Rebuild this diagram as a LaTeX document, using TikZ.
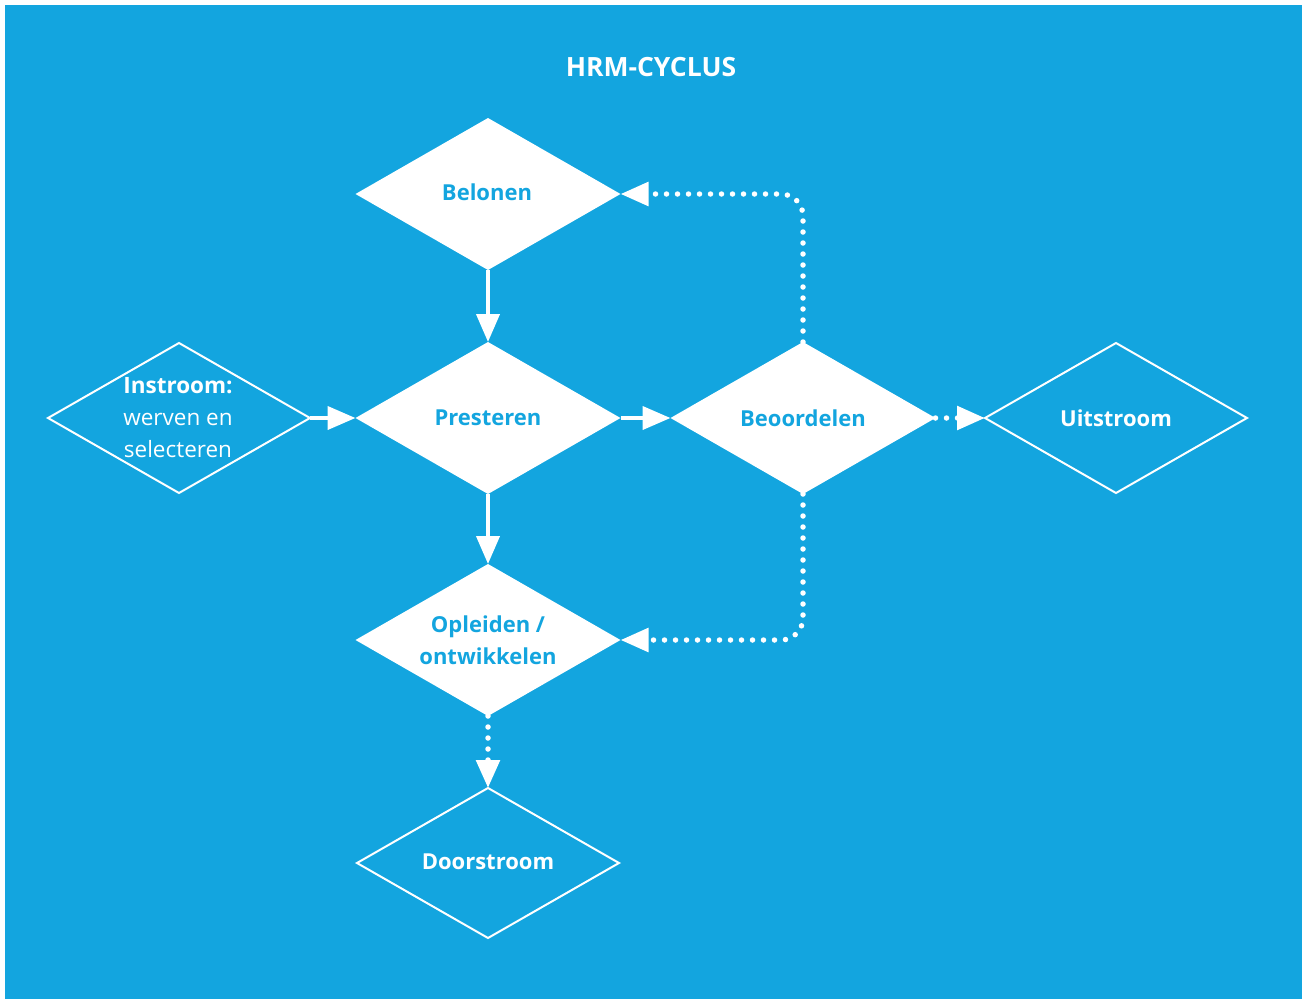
\documentclass[tikz,border=0pt]{standalone}
\usepackage{fontspec}
\setmainfont{Open Sans}
\usetikzlibrary{shapes.geometric,arrows.meta}
\definecolor{bgblue}{RGB}{19,165,223}
\begin{document}
\begin{tikzpicture}[x=1pt,y=-1pt,
  filled/.style={diamond,draw=none,fill=white,minimum width=265pt,minimum height=152pt,inner sep=0pt,outer sep=0pt},
  outlined/.style={diamond,draw=white,line width=2pt,minimum width=262pt,minimum height=150pt,inner sep=0pt,outer sep=0pt},
  lbl/.style={font=\fontsize{22}{32}\selectfont\bfseries,text=bgblue,align=center},
  wlbl/.style={font=\fontsize{22.5}{32}\selectfont,text=white,align=center},
  wblbl/.style={font=\fontsize{22}{32}\selectfont\bfseries,text=white,align=center},
  solidarrow/.style={white,line width=4pt,-{Triangle[length=28pt,width=23pt]}},
  dotarrow/.style={white,line width=5.5pt,line cap=round,dash pattern=on 0pt off 11pt,-{Triangle[length=28pt,width=23pt]}}
]
\useasboundingbox (0,0) rectangle (1302,999);
\fill[white] (0,0) rectangle (1302,999);
\fill[bgblue] (5,5) rectangle (1302,999);

\node[font=\fontsize{26.5}{30}\selectfont\bfseries,text=white] (title) at (651,67) {HRM-CYCLUS};

\node[filled] (bel) at (488,194) {};
\node[filled] (pre) at (488,418) {};
\node[filled] (beo) at (803,418) {};
\node[filled] (opl) at (488,640) {};
\node[outlined] (ins) at (179,418) {};
\node[outlined] (uit) at (1116,418) {};
\node[outlined] (doo) at (488,863) {};

\node[lbl] (belt) at (487,192) {Belonen};
\node[lbl] (pret) at (pre.center) {Presteren};
\node[lbl] (beot) at (beo.center) {Beoordelen};
\node[lbl] (oplt) at (opl.center) {Opleiden /\\ontwikkelen};
\node[wlbl] (inst) at (178,418) {\textbf{Instroom:}\\werven en\\selecteren};
\node[wblbl] (uitt) at (uit.center) {Uitstroom};
\node[wblbl] (doot) at (488,862) {Doorstroom};

\draw[solidarrow] (bel.south) -- (pre.north);
\draw[solidarrow] (ins.east) -- (pre.west);
\draw[solidarrow] (pre.east) -- (beo.west);
\draw[solidarrow] (pre.south) -- (opl.north);

\draw[dotarrow,rounded corners=22pt] (beo.north) |- (bel.east);
\draw[dotarrow,rounded corners=22pt] (beo.south) |- (opl.east);
\draw[dotarrow] (beo.east) -- (uit.west);
\draw[dotarrow] (opl.south) -- (doo.north);
\end{tikzpicture}
\end{document}
